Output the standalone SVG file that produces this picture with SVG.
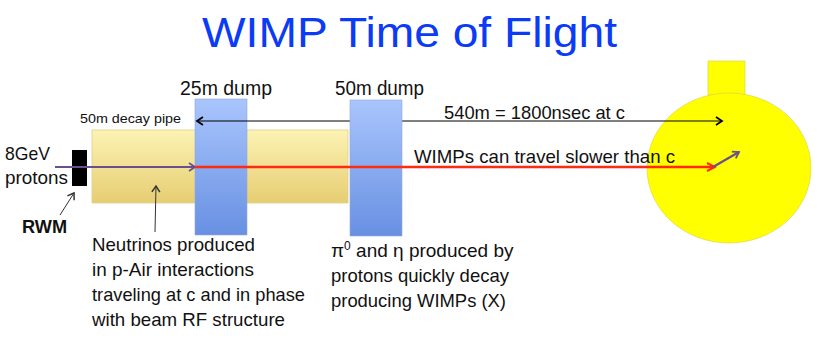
<svg xmlns="http://www.w3.org/2000/svg" width="817" height="338" viewBox="0 0 817 338">
<defs>
<linearGradient id="gy" x1="0" y1="0" x2="0" y2="1"><stop offset="0" stop-color="#fcf3b4"/><stop offset="1" stop-color="#e6cd72"/></linearGradient>
<linearGradient id="gb" x1="0" y1="0" x2="0" y2="1"><stop offset="0" stop-color="#a9c5fd"/><stop offset="1" stop-color="#6890e2"/></linearGradient>
<marker id="ab" markerWidth="10" markerHeight="10" refX="8" refY="5" orient="auto" markerUnits="userSpaceOnUse"><path d="M2,1 L8,5 L2,9" fill="none" stroke="#000" stroke-width="1.8"/></marker>
<marker id="abs" markerWidth="10" markerHeight="10" refX="2" refY="5" orient="auto" markerUnits="userSpaceOnUse"><path d="M8,1 L2,5 L8,9" fill="none" stroke="#000" stroke-width="1.8"/></marker>
<marker id="ap" markerWidth="10" markerHeight="10" refX="8" refY="5" orient="auto" markerUnits="userSpaceOnUse"><path d="M2,1 L8,5 L2,9" fill="none" stroke="#6a4f8f" stroke-width="1.8"/></marker>
<marker id="ar" markerWidth="12" markerHeight="12" refX="10" refY="6" orient="auto" markerUnits="userSpaceOnUse"><path d="M2,2 L10,6 L2,10" fill="none" stroke="#ff2a10" stroke-width="2"/></marker>
<marker id="ag" markerWidth="10" markerHeight="10" refX="8" refY="5" orient="auto" markerUnits="userSpaceOnUse"><path d="M2,1 L8,5 L2,9" fill="none" stroke="#333" stroke-width="1.5"/></marker>
</defs>
<style>
text{font-family:"Liberation Sans",Arial,sans-serif;fill:#111}
.t{font-size:19px}
.title{font-size:43px;fill:#0b3bf5}
.dump{fill:url(#gb);stroke:#8fa8d8;stroke-width:0.6}
</style>
<text class="title" x="202" y="47" textLength="415" lengthAdjust="spacingAndGlyphs">WIMP Time of Flight</text>
<g id="pipe"><rect x="92" y="130" width="256" height="73" fill="url(#gy)" stroke="#e0cf8a" stroke-width="0.8"/></g>
<g id="rwm"><rect x="72" y="150" width="15" height="36" fill="#000"/></g>
<g id="detector">
<rect x="708" y="61" width="37" height="34" fill="#ffff00" stroke="#d8d040" stroke-width="0.6"/>
<ellipse cx="729" cy="168" rx="82" ry="75" fill="#ffff00" stroke="#d8d040" stroke-width="0.6"/>
</g>
<g id="dump25"><rect class="dump" x="195" y="99" width="52" height="136"/></g>
<g id="connectors" fill="none">
<line x1="197" y1="121" x2="722" y2="121" stroke="#000" stroke-width="1.2" marker-start="url(#abs)" marker-end="url(#ab)"/>
<line x1="60" y1="215" x2="74" y2="193" stroke="#333" stroke-width="1" marker-end="url(#ag)"/>
<line x1="155" y1="232" x2="156" y2="186" stroke="#333" stroke-width="1" marker-end="url(#ag)"/>
</g>
<g id="dump50"><rect class="dump" x="350" y="100" width="52" height="136"/></g>
<g id="beam" fill="none">
<line x1="55" y1="167" x2="195" y2="167" stroke="#6a4f8f" stroke-width="2.2" marker-end="url(#ap)"/>
<line x1="195" y1="167" x2="715" y2="167" stroke="#ff2a10" stroke-width="2.5" marker-end="url(#ar)"/>
<line x1="713" y1="167" x2="739" y2="152" stroke="#6a4f8f" stroke-width="2.2" marker-end="url(#ap)"/>
</g>
<text x="180" y="95" font-size="20" textLength="92" lengthAdjust="spacingAndGlyphs">25m dump</text>
<text x="335" y="95" font-size="20" textLength="89" lengthAdjust="spacingAndGlyphs">50m dump</text>
<text x="80" y="123" font-size="13" textLength="101" lengthAdjust="spacingAndGlyphs">50m decay pipe</text>
<text class="t" x="444" y="119" textLength="181" lengthAdjust="spacingAndGlyphs">540m = 1800nsec at c</text>
<text class="t" x="414" y="163" textLength="261" lengthAdjust="spacingAndGlyphs">WIMPs can travel slower than c</text>
<text class="t" x="5" y="160" textLength="45" lengthAdjust="spacingAndGlyphs">8GeV</text>
<text class="t" x="5" y="184" textLength="63" lengthAdjust="spacingAndGlyphs">protons</text>
<text x="22" y="233" font-size="18" font-weight="bold" textLength="45" lengthAdjust="spacingAndGlyphs">RWM</text>
<text class="t" x="92" y="251" textLength="163" lengthAdjust="spacingAndGlyphs">Neutrinos produced</text>
<text class="t" x="92" y="276" textLength="162" lengthAdjust="spacingAndGlyphs">in p-Air interactions</text>
<text class="t" x="92" y="301" textLength="213" lengthAdjust="spacingAndGlyphs">traveling at c and in phase</text>
<text class="t" x="92" y="326" textLength="193" lengthAdjust="spacingAndGlyphs">with beam RF structure</text>
<text class="t" x="331" y="257">π<tspan font-size="12" dy="-7">0</tspan><tspan dy="7"> and η produced by</tspan></text>
<text class="t" x="331" y="282" textLength="178" lengthAdjust="spacingAndGlyphs">protons quickly decay</text>
<text class="t" x="331" y="307" textLength="175" lengthAdjust="spacingAndGlyphs">producing WIMPs (X)</text>
</svg>
